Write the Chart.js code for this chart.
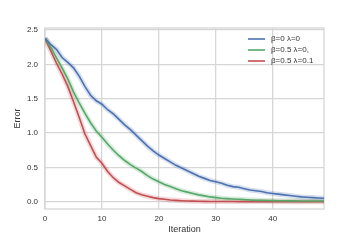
<!DOCTYPE html>
<html><head><meta charset="utf-8">
<script src="https://cdn.jsdelivr.net/npm/chart.js@4"></script>
<style>html,body{margin:0;padding:0;background:#fff}#wrap{width:360px;height:240px}</style>
</head><body><div id="wrap"><canvas id="c"></canvas></div>
<script>
const iterations = Array.from({length: 50}, (_, i) => i);
const labels = ['β=0 λ=0', 'β=0.5 λ=0,', 'β=0.5 λ=0.1'];
const blueVals = [2.38,2.29,2.22,2.10,2.03,1.95,1.83,1.68,1.55,1.47,1.42,1.34,1.28,1.20,1.12,1.05,0.97,0.89,0.81,0.74,0.68,0.63,0.58,0.53,0.49,0.45,0.41,0.37,0.34,0.31,0.29,0.27,0.24,0.22,0.21,0.19,0.17,0.16,0.15,0.13,0.12,0.11,0.10,0.09,0.08,0.07,0.065,0.06,0.055,0.05];
const greenVals = [2.38,2.25,2.10,1.95,1.79,1.60,1.44,1.29,1.15,1.03,0.94,0.84,0.75,0.67,0.60,0.54,0.49,0.44,0.38,0.33,0.29,0.25,0.22,0.19,0.16,0.14,0.12,0.10,0.085,0.07,0.06,0.05,0.045,0.04,0.035,0.03,0.025,0.02,0.02,0.018,0.016,0.015,0.014,0.013,0.012,0.011,0.011,0.01,0.01,0.01];
const redVals = [2.38,2.20,2.02,1.86,1.68,1.46,1.23,0.99,0.82,0.65,0.56,0.44,0.35,0.28,0.23,0.18,0.13,0.10,0.08,0.06,0.045,0.035,0.025,0.02,0.015,0.01,0.008,0.006,0.005,0.004,0.004,0.003,0.003,0.003,0.002,0.002,0.002,0.002,0.002,0.002,0.001,0.001,0.001,0.001,0.001,0.001,0.001,0.001,0.001,0.001];
const xTicks = [0,10,20,30,40];
const yTicks = [0,0.5,1,1.5,2,2.5];

const colors = ['#4C72B0','#55A868','#C44E52'];
const halos = ['rgba(76,114,176,0.22)','rgba(85,168,104,0.22)','rgba(196,78,82,0.22)'];
const series = [blueVals, greenVals, redVals];
const datasets = [];
series.forEach((vals, k) => {
  datasets.push({label: '_halo', data: vals.map((v,i)=>({x: iterations[i], y: v})), borderColor: halos[k], borderWidth: 5, pointRadius: 0, tension: 0, order: 10});
});
series.forEach((vals, k) => {
  datasets.push({label: labels[k], data: vals.map((v,i)=>({x: iterations[i], y: v})), borderColor: colors[k], borderWidth: 1.6, pointRadius: 0, tension: 0, order: 1});
});

const GRID = '#d6d6d6';
const FONT = '"Liberation Sans", Arial, sans-serif';
const frame = {
  id: 'frame',
  beforeDatasetsDraw(chart) {
    const {ctx, chartArea: a} = chart;
    ctx.save(); ctx.strokeStyle = GRID; ctx.lineWidth = 1.3;
    ctx.strokeRect(a.left, a.top, a.right - a.left, a.bottom - a.top);
    ctx.restore();
  },
  afterDraw(chart) {
    const {ctx, chartArea: a} = chart;
    ctx.save();
    ctx.font = '8px ' + FONT;
    ctx.textBaseline = 'middle';
    const x0 = a.right - 76, y0 = a.top + 11, dy = 11;
    chart.data.datasets.filter(d => d.label !== '_halo').forEach((d, i) => {
      const y = y0 + i * dy;
      ctx.strokeStyle = d.borderColor; ctx.lineWidth = 1.6;
      ctx.beginPath(); ctx.moveTo(x0, y); ctx.lineTo(x0 + 17, y); ctx.stroke();
      ctx.fillStyle = '#333';
      ctx.fillText(d.label, x0 + 23, y);
    });
    ctx.restore();
  }
};

new Chart(document.getElementById('c'), {
  type: 'line',
  data: {datasets},
  plugins: [frame],
  options: {
    responsive: true, maintainAspectRatio: false, animation: false,
    layout: {padding: {left: 0, top: 28, right: 36, bottom: 0}},
    plugins: {legend: {display: false}, tooltip: {enabled: false}},
    scales: {
      x: {
        type: 'linear', min: 0, max: 49,
        afterFit(s) { s.height = 31; },
        afterBuildTicks(s) { s.ticks = xTicks.map(v => ({value: v})); },
        grid: {color: GRID, lineWidth: 1.3, drawTicks: false},
        border: {display: false},
        ticks: {padding: 5, color: '#333', font: {family: FONT, size: 8}, maxRotation: 0},
        title: {display: true, text: 'Iteration', color: '#333', font: {family: FONT, size: 9}, padding: {top: 0, bottom: 4.6}}
      },
      y: {
        min: -0.106, max: 2.53,
        afterFit(s) { s.width = 45; },
        afterBuildTicks(s) { s.ticks = yTicks.map(v => ({value: v})); },
        grid: {color: GRID, lineWidth: 1.3, drawTicks: false},
        border: {display: false},
        ticks: {padding: 7, color: '#333', font: {family: FONT, size: 8}, callback: v => v.toFixed(1)},
        title: {display: true, text: 'Error', color: '#333', font: {family: FONT, size: 9}, padding: {top: 12.6, bottom: 0}}
      }
    }
  }
});
</script></body></html>
